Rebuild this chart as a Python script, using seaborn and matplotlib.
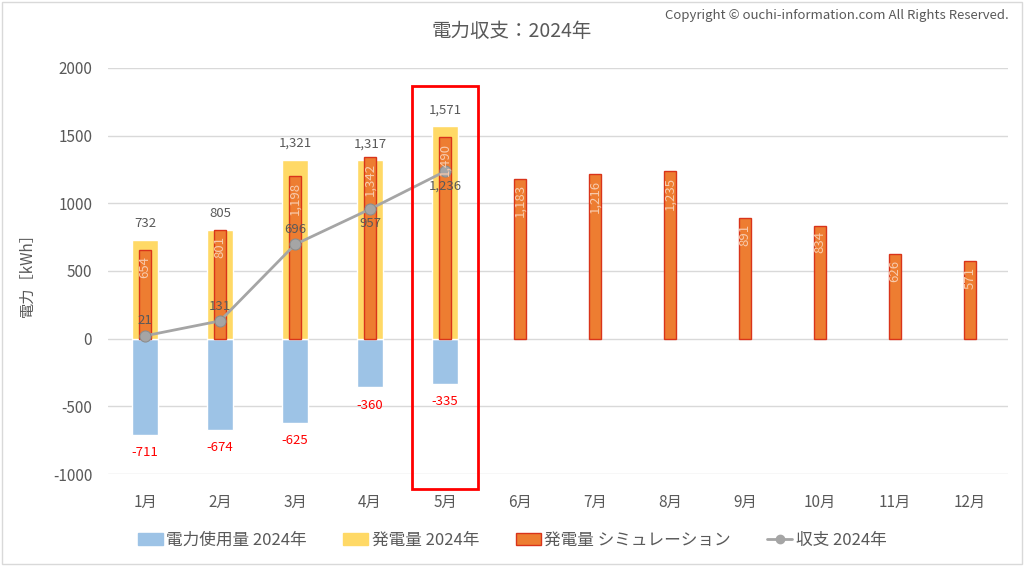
import numpy as np
import pandas as pd
import matplotlib.pyplot as plt
import seaborn as sns
from matplotlib.patches import Patch, Rectangle
from matplotlib.lines import Line2D

months = ["1月", "2月", "3月", "4月", "5月", "6月", "7月", "8月", "9月", "10月", "11月", "12月"]
usage_2024 = [-711, -674, -625, -360, -335]
gen_2024 = [732, 805, 1321, 1317, 1571]
gen_sim = [654, 801, 1198, 1342, 1490, 1183, 1216, 1235, 891, 834, 626, 571]
balance_2024 = [21, 131, 696, 957, 1236]
balance_label_pos = ["above", "above", "above", "below", "below"]
yticks = [-1000, -500, 0, 500, 1000, 1500, 2000]

sns.set_theme(style="white")
plt.rcParams["font.family"] = ["Noto Sans CJK JP", "DejaVu Sans"]

BLUE = "#9DC3E6"
YELLOW = "#FFD966"
ORANGE = "#ED7D31"
ORANGE_EDGE = "#D9341A"
GRAY = "#A5A5A5"
TEXT = "#595959"

fig = plt.figure(figsize=(10.24, 5.66), dpi=100)
ax = fig.add_axes([0.105, 0.1625, 0.879, 0.7175])

usage_df = pd.DataFrame({"month": months[:len(usage_2024)], "value": usage_2024})
gen_df = pd.DataFrame({"month": months[:len(gen_2024)], "value": gen_2024})
sim_df = pd.DataFrame({"month": months, "value": gen_sim})

sns.barplot(data=usage_df, x="month", y="value", order=months, color=BLUE,
            width=0.35, saturation=1, ax=ax, zorder=2)
sns.barplot(data=gen_df, x="month", y="value", order=months, color=YELLOW,
            width=0.35, saturation=1, ax=ax, zorder=2)
sns.barplot(data=sim_df, x="month", y="value", order=months, color=ORANGE,
            width=0.17, saturation=1, ax=ax, zorder=3,
            edgecolor=ORANGE_EDGE, linewidth=1.0)

xb = np.arange(len(balance_2024))
sns.lineplot(x=xb, y=balance_2024, color=GRAY, linewidth=2, marker="o",
             markersize=8, markerfacecolor=GRAY, markeredgecolor="#8C8C8C",
             ax=ax, zorder=4)

# data labels
for i, v in enumerate(gen_2024):
    ax.annotate(f"{v:,}", (i, v), xytext=(0, 7), textcoords="offset points",
                ha="center", va="bottom", fontsize=9.5, color=TEXT, zorder=6)
for i, v in enumerate(usage_2024):
    ax.annotate(f"{v:,}", (i, v), xytext=(0, -8), textcoords="offset points",
                ha="center", va="top", fontsize=9.5, color="#FF0000", zorder=6)
for i, v in enumerate(gen_sim):
    ax.annotate(f"{v:,}", (i, v), xytext=(0, -4), textcoords="offset points",
                ha="center", va="top", rotation=90, fontsize=9.5,
                color="#F8CBAD", zorder=6)
for i, (v, pos) in enumerate(zip(balance_2024, balance_label_pos)):
    dy, va = (6, "bottom") if pos == "above" else (-6, "top")
    ax.annotate(f"{v:,}", (i, v), xytext=(0, dy), textcoords="offset points",
                ha="center", va=va, fontsize=9.5, color=TEXT, zorder=6)

# red highlight box around current month
ax.add_patch(Rectangle((4 - 0.435, -1110), 0.87, 2980, fill=False,
                       edgecolor="#FF0000", linewidth=2, clip_on=False, zorder=7))

ax.set_xlim(-0.5, len(months) - 0.5)
ax.set_ylim(-1000, 2000)
ax.set_yticks(yticks)
ax.set_yticklabels([str(t) for t in yticks])
ax.yaxis.grid(True, color="#D9D9D9", linewidth=1)
ax.set_axisbelow(True)
for s in ax.spines.values():
    s.set_visible(False)
ax.tick_params(axis="both", length=0, colors=TEXT, labelsize=11)
ax.tick_params(axis="x", pad=14)
ax.tick_params(axis="y", pad=11)
ax.set_xlabel("")
ax.set_ylabel("電力［kWh］", color=TEXT, fontsize=11, labelpad=12)

fig.text(0.5, 0.945, "電力収支：2024年", ha="center", va="center",
         fontsize=14, color=TEXT)
fig.text(0.985, 0.972, "Copyright © ouchi-information.com All Rights Reserved.",
         ha="right", va="center", fontsize=9.5, color=TEXT)

handles = [
    Patch(facecolor=BLUE, edgecolor=BLUE, label="電力使用量 2024年"),
    Patch(facecolor=YELLOW, edgecolor=YELLOW, label="発電量 2024年"),
    Patch(facecolor=ORANGE, edgecolor=ORANGE_EDGE, label="発電量 シミュレーション"),
    Line2D([0], [0], color=GRAY, linewidth=2, marker="o", markersize=6,
           markerfacecolor=GRAY, label="収支 2024年"),
]
leg = fig.legend(handles=handles, loc="center", bbox_to_anchor=(0.5, 0.045),
                 ncol=4, frameon=False, fontsize=12, handlelength=1.5,
                 handletextpad=0.2, columnspacing=2.2)
for t in leg.get_texts():
    t.set_color(TEXT)

fig.add_artist(Rectangle((0.002, 0.004), 0.996, 0.992, transform=fig.transFigure,
                         fill=False, edgecolor="#D9D9D9", linewidth=1))

fig.savefig("out.png", dpi=100)
